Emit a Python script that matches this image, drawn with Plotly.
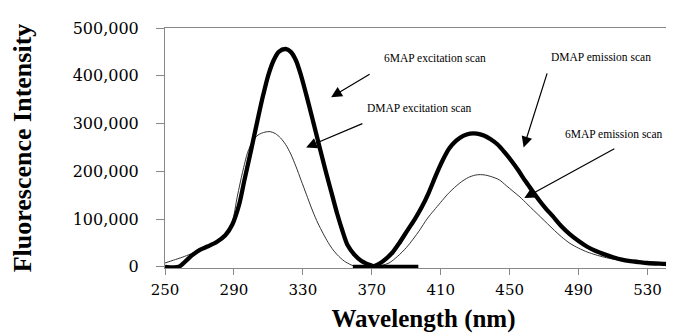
import plotly.graph_objects as go

# ---- data ----
# 6MAP excitation scan (thick)
ex6_wl = [250, 258, 262, 266, 270, 275, 280, 285, 289, 293, 296, 300, 304, 307, 310, 313, 316, 320,
          323, 326, 329, 332, 335, 338, 341, 344, 347, 350, 353, 356, 360, 364, 368, 371, 375, 385, 397]
ex6_val = [0, 0, 12000, 25000, 35000, 43000, 52000, 66000, 88000, 130000, 180000, 245000, 312000, 360000,
           402000, 432000, 450000, 456000, 450000, 432000, 400000, 360000, 318000, 275000, 232000, 190000,
           150000, 110000, 75000, 45000, 25000, 12000, 5000, 1000, 0, 0, 0]

# DMAP excitation scan (thin)
exD_wl = [250, 255, 260, 265, 270, 275, 280, 285, 289, 292, 295, 298, 301, 304, 308, 311, 314, 317, 320,
          323, 326, 329, 332, 335, 338, 341, 344, 347, 350, 354, 358, 361]
exD_val = [8000, 14000, 20000, 27000, 35000, 43000, 52000, 67000, 94000, 148000, 198000, 240000, 264000,
           276000, 282000, 283000, 279000, 270000, 256000, 236000, 210000, 181000, 152000, 123000, 97000,
           75000, 55000, 38000, 25000, 12000, 4000, 0]

# DMAP emission scan (thick)
emD_wl = [359, 366, 371, 375, 378, 382, 386, 391, 395, 399, 403, 407, 411, 415, 419, 423, 427, 431, 435,
          439, 443, 447, 451, 455, 459, 463, 467, 471, 475, 480, 485, 490, 495, 500, 505, 510, 515, 520,
          525, 530, 540, 550]
emD_val = [0, 0, 1000, 8000, 16000, 30000, 50000, 78000, 100000, 125000, 155000, 190000, 222000, 248000,
           264000, 274000, 279000, 279000, 275000, 267000, 256000, 240000, 222000, 202000, 180000, 160000,
           140000, 122000, 106000, 85000, 68000, 54000, 42000, 33000, 26000, 20000, 15000, 12000, 10000,
           8000, 6000, 4000]

# 6MAP emission scan (thin)
em6_wl = [375, 380, 385, 390, 394, 398, 402, 406, 410, 414, 418, 422, 426, 430, 433, 436, 440, 444, 448,
          452, 456, 460, 464, 468, 472, 476, 480, 485, 490, 495, 500, 505, 510, 515, 520, 530, 540, 550]
em6_val = [2000, 8000, 22000, 40000, 58000, 78000, 100000, 118000, 135000, 152000, 166000, 178000, 187000,
           192000, 193000, 192000, 188000, 182000, 170000, 158000, 146000, 132000, 118000, 104000, 90000,
           76000, 63000, 49000, 39000, 31000, 25000, 20000, 16000, 13000, 11000, 8000, 6000, 4000]

x_range = [250, 550]
y_range = [-2500, 500000]

# text labels: (text, x, y)
labels = [
    ("6MAP excitation scan", 406.5, 437000),
    ("DMAP excitation scan", 397.5, 332000),
    ("DMAP emission scan", 503.0, 439000),
    ("6MAP emission scan", 510.5, 278000),
]
# arrows: (tail x, tail y, head x, head y)
arrows = [
    (369.6, 405000, 346.4, 355000),
    (365.4, 301000, 331.9, 250000),
    (472.0, 408000, 458.1, 250000),
    (511.6, 249000, 458.5, 144000),
]

fig = go.Figure()
thick = dict(color="black", width=4.3, shape="spline", smoothing=0.8)
thin = dict(color="#333333", width=1, shape="spline", smoothing=0.8)
fig.add_trace(go.Scatter(x=exD_wl, y=exD_val, mode="lines", line=thin, name="DMAP excitation scan"))
fig.add_trace(go.Scatter(x=em6_wl, y=em6_val, mode="lines", line=thin, name="6MAP emission scan"))
fig.add_trace(go.Scatter(x=ex6_wl, y=ex6_val, mode="lines", line=thick, name="6MAP excitation scan"))
fig.add_trace(go.Scatter(x=emD_wl, y=emD_val, mode="lines", line=thick, name="DMAP emission scan"))

for t, x, y in labels:
    fig.add_annotation(x=x, y=y, xref="x", yref="y", text=t, showarrow=False,
                       font=dict(family="Liberation Serif", size=11.5, color="black"))
for tx, ty, hx, hy in arrows:
    fig.add_annotation(x=hx, y=hy, ax=tx, ay=ty, xref="x", yref="y", axref="x", ayref="y",
                       text="", showarrow=True, arrowhead=2, arrowsize=1.8, arrowwidth=1.2,
                       arrowcolor="black")

fig.update_layout(
    width=674, height=335,
    margin=dict(l=157, r=0, t=20, b=75),
    paper_bgcolor="white", plot_bgcolor="white",
    showlegend=False,
    font=dict(family="DejaVu Serif", color="black"),
)
fig.update_xaxes(
    range=x_range, tick0=250, dtick=40, showgrid=False, zeroline=False,
    showline=True, linecolor="#888888", linewidth=1, mirror=True,
    ticks="outside", ticklen=6, tickcolor="#888888",
    tickfont=dict(family="DejaVu Serif", size=15, color="black"), ticklabelstandoff=2,
    title=dict(text="Wavelength (nm)", standoff=11,
               font=dict(family="Liberation Serif", size=25, color="black", weight="bold")),
)
fig.update_yaxes(
    range=y_range, tickvals=[0, 100000, 200000, 300000, 400000, 500000], tickformat=",d",
    showgrid=False, zeroline=False,
    showline=True, linecolor="#888888", linewidth=1,
    ticks="outside", ticklen=8, tickcolor="#888888",
    tickfont=dict(family="DejaVu Serif", size=16, color="black"), ticklabelstandoff=14,
    title=dict(text="Fluorescence Intensity", standoff=33,
               font=dict(family="Liberation Serif", size=26, color="black", weight="bold")),
)

fig.write_html("out.html")
